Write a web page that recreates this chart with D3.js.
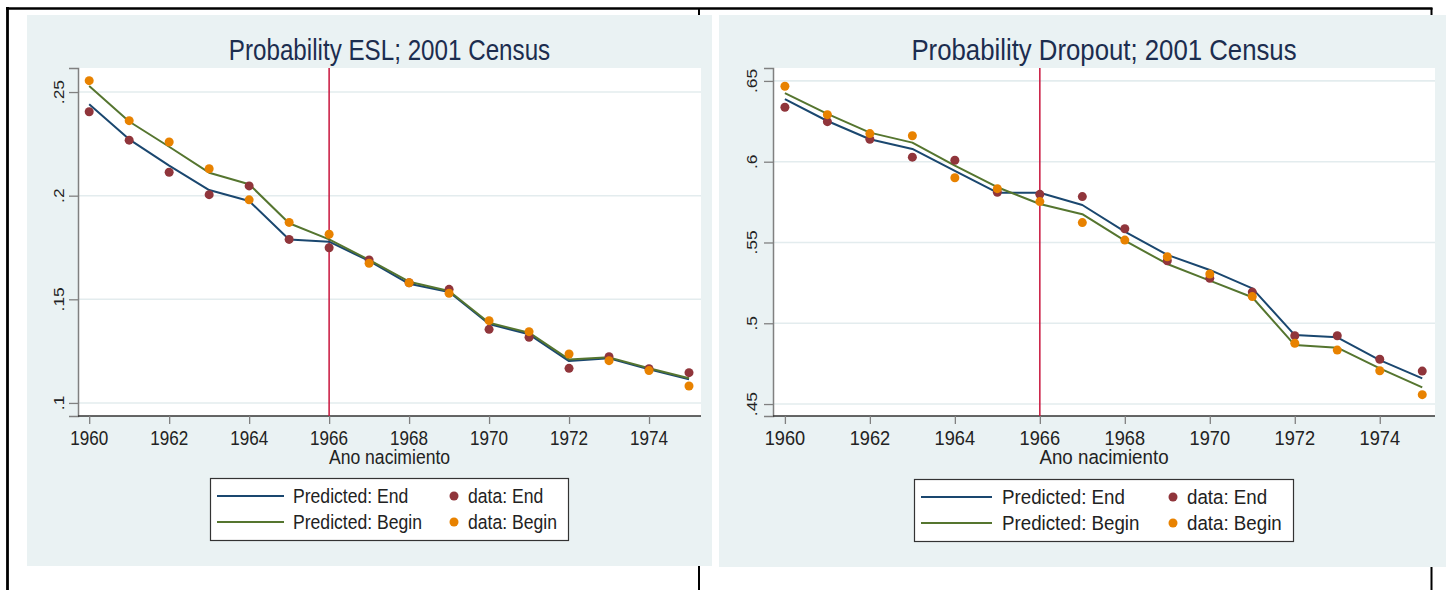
<!DOCTYPE html>
<html>
<head>
<meta charset="utf-8">
<script src="https://cdn.jsdelivr.net/npm/d3@7"></script>
<style>
  html, body { margin: 0; padding: 0; background: #fff; }
  svg { display: block; font-family: "Liberation Sans", Arial, sans-serif; }
</style>
</head>
<body>
<div id="chart"></div>
<script>
// data
const years = [1960, 1961, 1962, 1963, 1964, 1965, 1966, 1967, 1968, 1969, 1970, 1971, 1972, 1973, 1974, 1975];
const yearTicks = [1960, 1962, 1964, 1966, 1968, 1970, 1972, 1974];
const cutoffYear = 1966;

const eslPredEnd   = [.2441, .2272, .2145, .2027, .1974, .1789, .1778, .1685, .1575, .1535, .1381, .1331, .1202, .1216, .1162, .1114];
const eslPredBegin = [.2529, .2358, .2236, .2111, .2055, .1867, .1789, .1690, .1585, .1540, .1387, .1339, .1210, .1220, .1167, .1119];
const eslDataEnd   = [.2405, .2268, .2113, .2005, .2047, .1789, .1749, .1690, .1580, .1548, .1355, .1317, .1167, .1223, .1165, .1146];
const eslDataBegin = [.2555, .2362, .2259, .2130, .1980, .1871, .1814, .1674, .1580, .1529, .1397, .1344, .1236, .1204, .1156, .1082];
const eslTicks = [.1, .15, .2, .25];
const eslTickLabels = [".1", ".15", ".2", ".25"];

const dropPredEnd   = [.6387, .6252, .6139, .6079, .5943, .5808, .5808, .5732, .5567, .5423, .5330, .5216, .4927, .4913, .4772, .4659];
const dropPredBegin = [.6424, .6296, .6180, .6118, .5976, .5842, .5738, .5675, .5511, .5367, .5264, .5161, .4865, .4849, .4721, .4603];
const dropDataEnd   = [.6337, .6248, .6139, .6028, .6009, .5811, .5798, .5784, .5585, .5387, .5278, .5193, .4923, .4923, .4777, .4704];
const dropDataBegin = [.6467, .6291, .6174, .6161, .5901, .5833, .5753, .5623, .5515, .5412, .5305, .5165, .4876, .4834, .4706, .4558];
const dropTicks = [.45, .5, .55, .6, .65];
const dropTickLabels = [".45", ".5", ".55", ".6", ".65"];

const legendLines = ["Predicted: End", "Predicted: Begin"];
const legendDots = ["data: End", "data: Begin"];
const xTitle = "Ano nacimiento";

const W = 1446, H = 590;
const col = {
  bg: "#eaf2f3", grid: "#e3ecee", title: "#1c2d4f",
  navy: "#1a476f", green: "#55752f", maroon: "#90353b", orange: "#e88200",
  vline: "#c8143c", ink: "#222"
};

const svg = d3.select("#chart").append("svg")
  .attr("width", W).attr("height", H);

// outer table-like frame behind the panels
svg.append("line").attr("x1", 6).attr("x2", 1432.5).attr("y1", 8.5).attr("y2", 8.5)
  .attr("stroke", "#000").attr("stroke-width", 2.5);
svg.append("line").attr("x1", 7.5).attr("x2", 7.5).attr("y1", 7).attr("y2", H)
  .attr("stroke", "#000").attr("stroke-width", 2.8);
[699, 1431.5].forEach(x => {
  svg.append("line").attr("x1", x).attr("x2", x).attr("y1", 8).attr("y2", H)
    .attr("stroke", "#000").attr("stroke-width", 2);
});

// horizontal text, stretched vertically like the source image
function stext(g, x, y, str, size, sy, anchor, fill) {
  return g.append("text")
    .attr("transform", "translate(" + x + "," + y + ") scale(1," + sy + ")")
    .attr("text-anchor", anchor || "start")
    .attr("font-size", size)
    .attr("fill", fill || col.ink)
    .text(str);
}

function drawPanel(p) {
  const g = svg.append("g");
  const sx = p.sx, sy = 1.2 / sx;

  g.append("rect")
    .attr("x", p.bg[0]).attr("y", p.bg[1])
    .attr("width", p.bg[2] - p.bg[0]).attr("height", p.bg[3] - p.bg[1])
    .attr("fill", col.bg);

  const [L, T, R, B] = p.plot;
  g.append("rect").attr("x", L).attr("y", T).attr("width", R - L).attr("height", B - T)
    .attr("fill", "#fff");

  const x = d3.scaleLinear().domain([1959.72, 1975.3]).range([L, R]);
  const y = d3.scaleLinear().domain(p.yDomain).range([B, T]);

  // grid
  g.selectAll(".grid").data(p.ticks).enter().append("line")
    .attr("x1", L).attr("x2", R)
    .attr("y1", d => y(d)).attr("y2", d => y(d))
    .attr("stroke", col.grid).attr("stroke-width", 1.6);

  // y axis
  const yAxis = g.append("g").attr("transform", "translate(" + L + ",0)")
    .call(d3.axisLeft(y).tickValues(p.ticks).tickSize(9).tickFormat(""));
  yAxis.select(".domain").attr("stroke", "#808080").attr("stroke-width", 1.5);
  yAxis.selectAll(".tick line").attr("stroke", "#808080").attr("stroke-width", 1.3);
  p.ticks.forEach((t, i) => {
    g.append("text")
      .attr("transform", "translate(" + p.yLabelX + "," + y(t) + ") rotate(-90) scale(" + (1.2 / sx) + ",1)")
      .attr("text-anchor", "middle")
      .attr("font-size", 14.5 * sx)
      .attr("fill", col.ink)
      .text(p.tickLabels[i]);
  });

  // x axis
  const xAxis = g.append("g").attr("transform", "translate(0," + B + ")")
    .call(d3.axisBottom(x).tickValues(yearTicks).tickSize(8).tickFormat(""));
  xAxis.select(".domain").attr("stroke", "#333").attr("stroke-width", 1.5)
    .attr("d", "M" + L + ",0H" + R);
  xAxis.selectAll(".tick line").attr("stroke", "#808080").attr("stroke-width", 1.3);
  yearTicks.forEach(t => stext(g, x(t), 445, t, 17.1 * sx, sy, "middle"));
  stext(g, (L + R) / 2, 464, xTitle, 17.6 * sx, sy, "middle");

  // title
  stext(g, (L + R) / 2, 60, p.title, 24.2 * sx, sy, "middle", col.title);

  // cutoff line
  g.append("line").attr("x1", x(cutoffYear)).attr("x2", x(cutoffYear))
    .attr("y1", T).attr("y2", B)
    .attr("stroke", col.vline).attr("stroke-width", 1.5);

  const line = d3.line().x((d, i) => x(years[i])).y(d => y(d));
  [[p.predEnd, col.navy], [p.predBegin, col.green]].forEach(([s, c]) => {
    g.append("path").datum(s).attr("d", line)
      .attr("fill", "none").attr("stroke", c).attr("stroke-width", 2)
      .attr("stroke-linejoin", "round");
  });
  [[p.dataEnd, col.maroon], [p.dataBegin, col.orange]].forEach(([s, c]) => {
    g.selectAll(null).data(s).enter().append("circle")
      .attr("cx", (d, i) => x(years[i])).attr("cy", d => y(d))
      .attr("r", 4.5).attr("fill", c);
  });

  // legend
  const lg = p.legend;
  g.append("rect").attr("x", lg.box[0] + 0.5).attr("y", lg.box[1] + 0.5)
    .attr("width", lg.box[2] - lg.box[0]).attr("height", lg.box[3] - lg.box[1])
    .attr("fill", "#fff").attr("stroke", "#333").attr("stroke-width", 1.2);
  const rows = [lg.box[1] + 18, lg.box[1] + 44];
  [col.navy, col.green].forEach((c, i) => {
    g.append("line").attr("x1", lg.line[0]).attr("x2", lg.line[1])
      .attr("y1", rows[i]).attr("y2", rows[i])
      .attr("stroke", c).attr("stroke-width", 2);
    stext(g, lg.text1, rows[i] + 7, legendLines[i], 17.6 * sx, sy);
  });
  [col.maroon, col.orange].forEach((c, i) => {
    g.append("circle").attr("cx", lg.dot).attr("cy", rows[i]).attr("r", 4.5).attr("fill", c);
    stext(g, lg.text2, rows[i] + 7, legendDots[i], 17.6 * sx, sy);
  });
}

drawPanel({
  title: "Probability ESL; 2001 Census",
  sx: 1,
  bg: [27, 15, 712, 566],
  plot: [78, 68, 701, 416],
  yDomain: [0.0937, 0.2616],
  ticks: eslTicks, tickLabels: eslTickLabels,
  yLabelX: 64,
  predEnd: eslPredEnd, predBegin: eslPredBegin,
  dataEnd: eslDataEnd, dataBegin: eslDataBegin,
  legend: { box: [210, 478, 568, 540], line: [217, 284], text1: 293, dot: 454, text2: 468 }
});

drawPanel({
  title: "Probability Dropout; 2001 Census",
  sx: 1.065,
  bg: [719, 15, 1446, 567],
  plot: [773, 68, 1435, 416],
  yDomain: [0.4426, 0.658],
  ticks: dropTicks, tickLabels: dropTickLabels,
  yLabelX: 757,
  predEnd: dropPredEnd, predBegin: dropPredBegin,
  dataEnd: dropDataEnd, dataBegin: dropDataBegin,
  legend: { box: [914, 479, 1293, 541], line: [921, 992], text1: 1002, dot: 1173, text2: 1187 }
});
</script>
</body>
</html>
